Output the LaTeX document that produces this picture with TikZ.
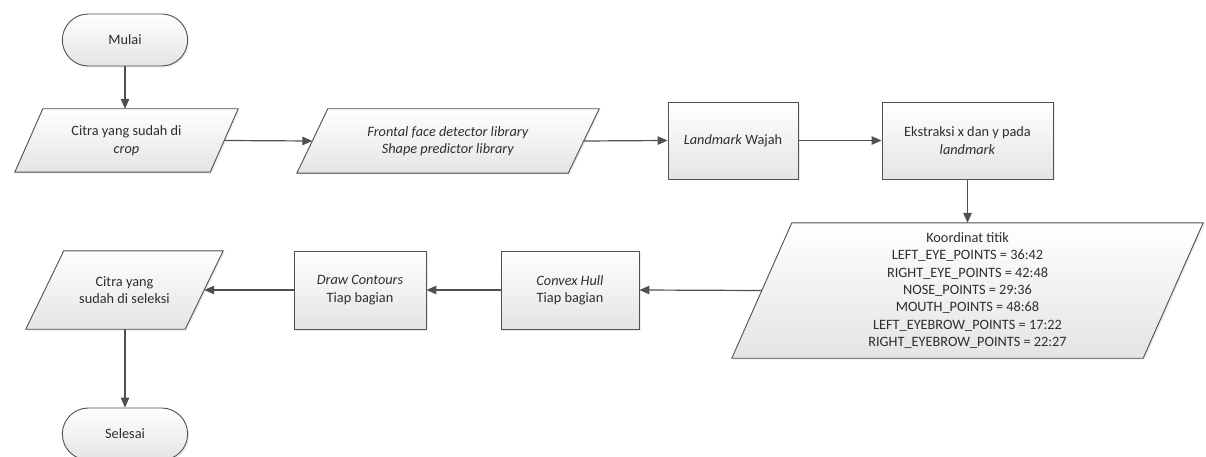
\documentclass[tikz,border=0pt]{standalone}
\usepackage{fontspec}
\setmainfont{Carlito}
\usetikzlibrary{shapes.misc,arrows.meta,shadows,backgrounds}

\definecolor{linec}{HTML}{505050}
\definecolor{textc}{HTML}{2E2E2E}
\definecolor{fillbot}{HTML}{E4E4E4}

\tikzset{
  shaded/.style={draw=linec, line width=0.9pt, top color=white, bottom color=fillbot,
    drop shadow={shadow xshift=1.5pt, shadow yshift=-1.5pt, opacity=0.15}},
  txt/.style={font=\fontsize{14.3}{17.4}\selectfont, text=textc, align=center},
  terminal/.style={rounded rectangle, shaded, txt, minimum width=132pt, minimum height=52pt},
  procbox/.style={rectangle, shaded, txt, minimum height=77pt},
  iotext/.style={rectangle, txt, inner sep=0pt},
  flow/.style={draw=linec, line width=1.2pt, -{Triangle[length=10pt,width=8.5pt]}},
}

% parallelogram drawn around a text node: #1 node name, #2 slant
\newcommand\iobox[2]{%
  \path[shaded] ([xshift=#2]#1.north west) -- (#1.north east)
    -- ([xshift=-#2]#1.south east) -- (#1.south west) -- cycle;}

\begin{document}
\begin{tikzpicture}[x=1pt,y=-1pt]
\useasboundingbox (0,0) rectangle (1206,457);

% top row
\node[terminal] (mulai) at (125,40) {Mulai};
\node[iotext, minimum width=223pt, minimum height=63pt] (crop) at (126.5,140.5)
  {Citra yang sudah di\\\textit{crop}};
\node[iotext, minimum width=302pt, minimum height=64pt] (lib) at (448,141)
  {\textit{Frontal face detector library}\\\textit{Shape predictor library}};
\node[procbox, minimum width=130pt] (wajah) at (733,140.5) {\textit{Landmark} Wajah};
\node[procbox, minimum width=171pt] (ekstr) at (967.5,140.5)
  {Ekstraksi x dan y pada\\\textit{landmark}};

% middle row
\node[iotext, minimum width=471pt, minimum height=135pt] (koord) at (967.5,290.5)
  {Koordinat titik\\
   LEFT\_EYE\_POINTS = 36:42\\
   RIGHT\_EYE\_POINTS = 42:48\\
   NOSE\_POINTS = 29:36\\
   MOUTH\_POINTS = 48:68\\
   LEFT\_EYEBROW\_POINTS = 17:22\\
   RIGHT\_EYEBROW\_POINTS = 22:27};
\node[procbox, minimum width=138pt, minimum height=78pt] (hull) at (570,290)
  {\textit{Convex Hull}\\Tiap bagian};
\node[procbox, minimum width=132pt, minimum height=78pt] (contour) at (360,290)
  {\textit{Draw Contours}\\Tiap bagian};
\node[iotext, minimum width=197pt, minimum height=78pt] (seleksi) at (124.5,290)
  {Citra yang\\sudah di seleksi};

% bottom
\node[terminal] (selesai) at (125,434) {Selesai};

\begin{pgfonlayer}{background}
  \iobox{crop}{28pt}
  \iobox{lib}{31pt}
  \iobox{koord}{60pt}
  \iobox{seleksi}{38pt}
\end{pgfonlayer}

% connectors
\draw[flow] (mulai.south) -- (mulai.south |- crop.north);
\draw[flow] ([xshift=-14pt]crop.east) -- ([xshift=15.5pt]lib.west);
\draw[flow] ([xshift=-15.5pt]lib.east) -- (wajah.west);
\draw[flow] (wajah.east) -- (ekstr.west);
\draw[flow] (ekstr.south) -- (ekstr.south |- koord.north);
\draw[flow] ([xshift=30pt]koord.west) -- (hull.east);
\draw[flow] (hull.west) -- (contour.east);
\draw[flow] (contour.west) -- ([xshift=-19pt]seleksi.east);
\draw[flow] (seleksi.south) -- (seleksi.south -| selesai.north) -- (selesai.north);
\end{tikzpicture}
\end{document}
